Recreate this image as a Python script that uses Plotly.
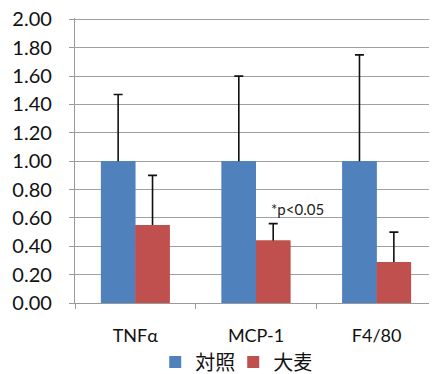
import plotly.graph_objects as go

categories = ["TNFα", "MCP-1", "F4/80"]
control_values = [1.00, 1.00, 1.00]
control_err = [0.47, 0.60, 0.75]
barley_values = [0.55, 0.44, 0.29]
barley_err = [0.35, 0.12, 0.21]
series_names = ["対照", "大麦"]
y_ticks = [0, 0.2, 0.4, 0.6, 0.8, 1.0, 1.2, 1.4, 1.6, 1.8, 2.0]
y_tick_labels = ["%.2f" % v for v in y_ticks]
note_text = "*p<0.05"
note_pos = ("MCP-1", 0.66)

FONT = "Lato, 'Noto Sans CJK JP', sans-serif"
COLORS = ["#4F81BD", "#C0504D"]

fig = go.Figure()
series = [
    (series_names[0], control_values, control_err, COLORS[0], "a"),
    (series_names[1], barley_values, barley_err, COLORS[1], "b"),
]
# bars with upward error bars (lower end hidden inside bar)
for name, vals, errs, color, grp in series:
    fig.add_trace(go.Bar(
        x=categories, y=vals, name=name, offsetgroup=grp,
        marker=dict(color=color, line=dict(width=0)),
        error_y=dict(type="data", symmetric=False, array=errs,
                     arrayminus=[0.03] * len(errs), color="#111111",
                     thickness=1.6, width=4.5),
    ))
# same bars drawn again on top to hide the lower cap
for name, vals, errs, color, grp in series:
    fig.add_trace(go.Bar(
        x=categories, y=vals, name=name, offsetgroup=grp,
        showlegend=False, hoverinfo="skip",
        marker=dict(color=color, line=dict(width=0)),
    ))

fig.add_annotation(x=note_pos[0], y=note_pos[1], text=note_text,
                   showarrow=False, xshift=41,
                   font=dict(family=FONT, size=15, color="#222"))

fig.update_layout(
    width=429, height=366,
    margin=dict(l=67, r=0, t=10, b=71),
    paper_bgcolor="white", plot_bgcolor="white",
    barmode="group", bargap=0.43, bargroupgap=0,
    font=dict(family=FONT, size=18, color="#111"),
    showlegend=True,
    legend=dict(orientation="h", x=0.525, xref="container", xanchor="center",
                y=0.033, yref="container", yanchor="middle",
                font=dict(family=FONT, size=20),
                itemwidth=30, entrywidth=33, traceorder="normal"),
    xaxis=dict(showline=True, linecolor="#9a9a9a", linewidth=1.3,
               ticks="outside", tickson="boundaries", ticklen=5,
               tickcolor="#9a9a9a", showgrid=False, automargin=False,
               ticklabelstandoff=16, tickfont=dict(size=18)),
    yaxis=dict(range=[0, 2.01], tickvals=y_ticks, ticktext=y_tick_labels,
               showline=True, linecolor="#9a9a9a", linewidth=1.3,
               ticks="outside", ticklen=5, tickcolor="#9a9a9a",
               showgrid=True, gridcolor="#a0a0a0", gridwidth=1.3,
               zeroline=False, ticklabelstandoff=13, automargin=False,
               ticklabeloverflow="allow",
               tickfont=dict(size=20)),
)

fig.write_html("out.html")
